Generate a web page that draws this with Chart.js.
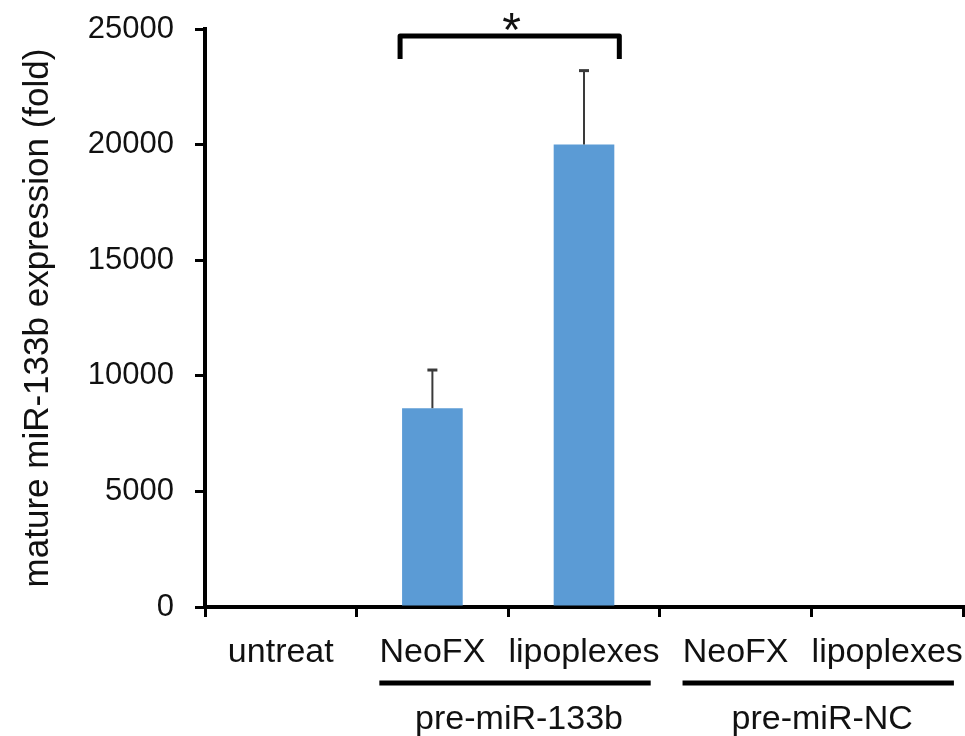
<!DOCTYPE html>
<html>
<head>
<meta charset="utf-8">
<script src="https://cdn.jsdelivr.net/npm/chart.js@4.4.0/dist/chart.umd.min.js"></script>
<style>
  body { margin: 0; background: #fff; }
  .wrap { width: 965px; height: 736px; position: relative; }
</style>
</head>
<body>
<div class="wrap"><canvas id="chart1"></canvas></div>
<script>
// values
const categories = ['untreat', 'NeoFX', 'lipoplexes', 'NeoFX', 'lipoplexes'];
const expression = [0, 8600, 20000, 0, 0];
const errorUp = [0, 1650, 3200, 0, 0];
const groupNames = ['pre-miR-133b', 'pre-miR-NC'];
const groupStart = [1, 3];
const groupEnd = [2, 4];
const yTicks = [0, 5000, 10000, 15000, 20000, 25000];
const sigPair = [1, 2];
const sigLevel = 24700;
const sigText = '*';

const FONT = '"Liberation Sans", Arial, sans-serif';
const ink = '#111';

const errorBars = {
  id: 'errorBars',
  afterDatasetsDraw(chart) {
    const c = chart.ctx;
    const y = chart.scales.y;
    const meta = chart.getDatasetMeta(0);
    c.save();
    c.strokeStyle = '#3a3a3a';
    errorUp.forEach((e, i) => {
      if (!e) return;
      const x = meta.data[i].x;
      const y0 = y.getPixelForValue(expression[i]);
      const y1 = y.getPixelForValue(expression[i] + e);
      c.lineWidth = 2;
      c.beginPath();
      c.moveTo(x, y0);
      c.lineTo(x, y1);
      c.stroke();
      c.lineWidth = 3;
      c.beginPath();
      c.moveTo(x - 5, y1);
      c.lineTo(x + 5, y1);
      c.stroke();
    });
    c.restore();
  }
};

const annotations = {
  id: 'annotations',
  afterDraw(chart) {
    const c = chart.ctx;
    const xs = chart.scales.x;
    const y = chart.scales.y;
    const meta = chart.getDatasetMeta(0);
    const area = chart.chartArea;
    c.save();
    // significance bracket
    const b1 = meta.data[sigPair[0]], b2 = meta.data[sigPair[1]];
    const left = b1.x - b1.width / 2 - 2;
    const right = b2.x + b2.width / 2 + 5;
    const top = y.getPixelForValue(sigLevel);
    c.strokeStyle = '#000';
    c.lineWidth = 5;
    c.lineJoin = 'round';
    c.beginPath();
    c.moveTo(left, top + 23);
    c.lineTo(left, top);
    c.lineTo(right, top);
    c.lineTo(right, top + 23);
    c.stroke();
    c.fillStyle = ink;
    c.font = '48px ' + FONT;
    c.textAlign = 'center';
    c.textBaseline = 'middle';
    c.fillText(sigText, (left + right) / 2 + 2, top - 3);

    // group bars and names under the axis
    const cw = xs.getPixelForValue(1) - xs.getPixelForValue(0);
    c.font = '34px ' + FONT;
    groupNames.forEach((g, i) => {
      const x0 = xs.getPixelForValue(groupStart[i]) - 0.35 * cw;
      const x1 = xs.getPixelForValue(groupEnd[i]) + 0.44 * cw;
      const ly = area.bottom + 76;
      c.lineWidth = 5;
      c.lineCap = 'butt';
      c.beginPath();
      c.moveTo(x0, ly);
      c.lineTo(x1, ly);
      c.stroke();
      c.fillText(g, (x0 + x1) / 2 + 4, ly + 37);
    });
    c.restore();
  }
};

const ctx = document.getElementById('chart1').getContext('2d');
let myChart = new Chart(ctx, {
  type: 'bar',
  data: {
    labels: categories,
    datasets: [{
      data: expression,
      backgroundColor: '#5b9bd5',
      borderWidth: 0,
      barPercentage: 0.4,
      categoryPercentage: 1
    }]
  },
  options: {
    responsive: true,
    maintainAspectRatio: false,
    animation: false,
    layout: { padding: { left: 0, top: 29, right: 2, bottom: 0 } },
    plugins: {
      legend: { display: false },
      tooltip: { enabled: false }
    },
    scales: {
      x: {
        offset: true,
        grid: {
          offset: true,
          drawOnChartArea: false,
          drawTicks: true,
          tickLength: 10,
          lineWidth: 3,
          color: '#000'
        },
        border: { display: true, color: '#000', width: 4 },
        ticks: {
          color: ink,
          font: { family: FONT, size: 34 },
          padding: 15,
          maxRotation: 0,
          autoSkip: false
        },
        afterFit(scale) {
          scale.height = 129;
          scale.paddingLeft = 0;
          scale.paddingRight = 0;
        }
      },
      y: {
        min: 0,
        max: 25000,
        afterBuildTicks(scale) { scale.ticks = yTicks.map(v => ({ value: v })); },
        grid: {
          drawOnChartArea: false,
          drawTicks: true,
          tickLength: 10,
          lineWidth: 3,
          color: '#000'
        },
        border: { display: true, color: '#000', width: 4 },
        ticks: {
          color: ink,
          font: { family: FONT, size: 31 },
          padding: 21,
          callback: v => String(v)
        },
        title: {
          display: true,
          text: 'mature miR-133b expression (fold)',
          color: ink,
          font: { family: FONT, size: 35 },
          padding: { top: 17, bottom: 0 }
        },
        afterFit(scale) {
          scale.width = 205;
          scale.paddingTop = 0;
          scale.paddingBottom = 0;
        }
      }
    }
  },
  plugins: [errorBars, annotations]
});
</script>
</body>
</html>
